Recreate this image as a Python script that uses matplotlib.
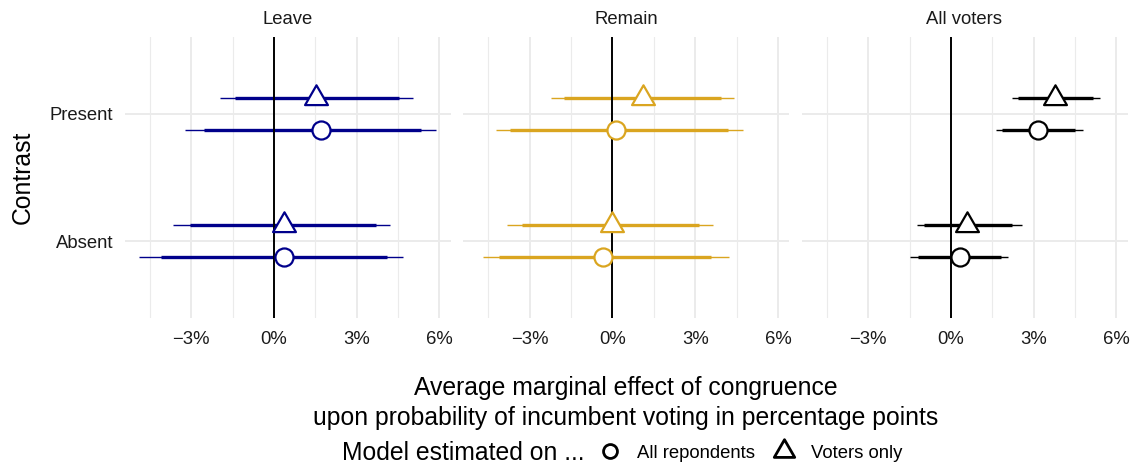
import matplotlib
matplotlib.use('Agg')
import matplotlib.pyplot as plt
from matplotlib.lines import Line2D
from matplotlib.path import Path

plt.rcParams['font.family'] = ['Liberation Sans', 'DejaVu Sans']

panels = ['Leave', 'Remain', 'All voters']
colors = ['#00008B', '#DAA520', '#000000']
contrasts = ['Present', 'Absent']
contrast_y = [2, 1]
models = ['All repondents', 'Voters only']
xticks = [-3, 0, 3, 6]
xticklabels = ['\u22123%', '0%', '3%', '6%']

# values per panel, each as [Present, Absent], in percentage points
est = {
    'All repondents': [[1.69, 0.37], [0.13, -0.33], [3.17, 0.33]],
    'Voters only':    [[1.51, 0.37], [1.12, -0.02], [3.77, 0.59]],
}
lo90 = {
    'All repondents': [[-2.54, -4.11], [-3.71, -4.13], [1.86, -1.19]],
    'Voters only':    [[-1.40, -3.05], [-1.75, -3.29], [2.44, -0.97]],
}
hi90 = {
    'All repondents': [[5.32, 4.09], [4.18, 3.57], [4.50, 1.80]],
    'Voters only':    [[4.52, 3.70], [3.94, 3.12], [5.16, 2.20]],
}
lo95 = {
    'All repondents': [[-3.23, -4.88], [-4.22, -4.68], [1.62, -1.49]],
    'Voters only':    [[-1.96, -3.65], [-2.23, -3.81], [2.20, -1.24]],
}
hi95 = {
    'All repondents': [[5.86, 4.69], [4.75, 4.24], [4.78, 2.08]],
    'Voters only':    [[5.05, 4.22], [4.39, 3.64], [5.40, 2.56]],
}

# equilateral triangle centred on its centroid (like R's pch 2)
tri = Path([(0, 1), (-0.866, -0.5), (0.866, -0.5), (0, 1)],
           [Path.MOVETO, Path.LINETO, Path.LINETO, Path.CLOSEPOLY])
marker = {'All repondents': ('o', 13), 'Voters only': (tri, 19)}
dodge = {'All repondents': -0.125, 'Voters only': 0.125}

W, H = 1130, 465
fig = plt.figure(figsize=(W / 100, H / 100), dpi=100)

for i, name in enumerate(panels):
    left = 124.5 + 338.5 * i
    ax = fig.add_axes([left / W, 1 - 318 / H, 326 / W, 281 / H])
    col = colors[i]
    for m in models:
        for j, y in enumerate(contrast_y):
            yy = y + dodge[m]
            ax.plot([lo95[m][i][j], hi95[m][i][j]], [yy, yy], color=col, lw=1.0,
                    solid_capstyle='butt', zorder=2)
            ax.plot([lo90[m][i][j], hi90[m][i][j]], [yy, yy], color=col, lw=2.4,
                    solid_capstyle='butt', zorder=2)
            ax.plot([est[m][i][j]], [yy], linestyle='none', marker=marker[m][0],
                    ms=marker[m][1], mfc='white', mec=col, mew=1.6, zorder=4)
    ax.axvline(0, color='black', lw=1.4, zorder=3)

    ax.set_xlim(-5.42, 6.40)
    ax.set_ylim(0.4, 2.6)
    ax.set_xticks(xticks)
    ax.set_xticklabels(xticklabels)
    ax.set_xticks([-4.5, -1.5, 1.5, 4.5], minor=True)
    ax.set_yticks(contrast_y)
    if i == 0:
        ax.set_yticklabels(contrasts)
    else:
        ax.set_yticklabels([])
    ax.tick_params(which='both', length=0, labelsize=13.3, labelcolor='#1a1a1a')
    ax.tick_params(axis='x', pad=9)
    ax.tick_params(axis='y', pad=8)
    ax.grid(which='major', color='#EBEBEB', lw=1.4, zorder=0)
    ax.grid(which='minor', axis='x', color='#EBEBEB', lw=0.8, zorder=0)
    ax.set_axisbelow(True)
    for s in ax.spines.values():
        s.set_visible(False)
    ax.text(0.5, 1.062, name, transform=ax.transAxes, ha='center', va='center',
            fontsize=13.3, color='#1a1a1a')

fig.text(23 / W, 1 - 177 / H, 'Contrast', rotation=90, ha='center', va='center',
         fontsize=17.8)
fig.text(626 / W, 1 - 388 / H, 'Average marginal effect of congruence',
         ha='center', va='center', fontsize=17.8)
fig.text(626 / W, 1 - 418 / H,
         'upon probability of incumbent voting in percentage points',
         ha='center', va='center', fontsize=17.8)

fig.text(342 / W, 1 - 453 / H, 'Model estimated on ...', ha='left', va='center',
         fontsize=17.8)
handles = [
    Line2D([], [], linestyle='none', marker='o', ms=10, mfc='white', mec='black', mew=2.0),
    Line2D([], [], linestyle='none', marker=tri, ms=17, mfc='white', mec='black', mew=2.0),
]
fig.legend(handles, models, ncol=2, loc='center left',
           bbox_to_anchor=(600.5 / W, 1 - 453 / H), frameon=False, fontsize=13.3,
           handlelength=1.0, handletextpad=0.95, columnspacing=1.1, borderpad=0,
           borderaxespad=0)

fig.savefig('out.png', dpi=100)
